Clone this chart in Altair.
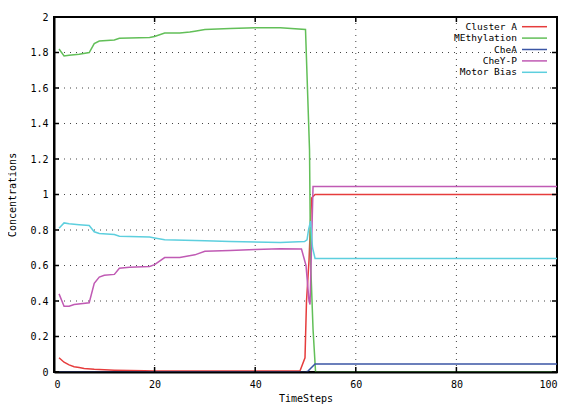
import altair as alt
import pandas as pd

# ---- data ----
series_names = ["Cluster A", "MEthylation", "CheA", "CheY-P", "Motor Bias"]
series_colors = ["#e63c3c", "#62bf58", "#3b56a5", "#c05ab4", "#5dcfde"]

cluster_t = [1, 2, 3, 4, 5, 6, 8, 10, 12, 15, 18, 20, 30, 40, 48.9, 49.9, 50.2, 50.7, 51.2, 51.9, 100]
cluster_v = [0.08, 0.055, 0.04, 0.03, 0.025, 0.02, 0.015, 0.012, 0.01, 0.008, 0.007, 0.006, 0.006, 0.006,
             0.006, 0.08, 0.4, 0.63, 0.98, 1.0, 1.0]

meth_t = [1, 2, 3, 5, 7, 8, 9, 12, 13, 19, 20, 22, 25, 27, 28, 30, 35, 40, 45, 50, 50.8, 51.0, 51.5, 52, 100]
meth_v = [1.82, 1.78, 1.785, 1.79, 1.80, 1.85, 1.865, 1.87, 1.88, 1.885, 1.89, 1.91, 1.91, 1.915, 1.92,
          1.93, 1.935, 1.94, 1.94, 1.93, 1.25, 0.63, 0.24, 0.0, 0.0]

chea_t = [1, 50, 50.5, 51, 51.9, 100]
chea_v = [0.0, 0.0, 0.005, 0.02, 0.045, 0.045]

chey_t = [1, 2, 3, 4, 7, 8, 9, 10, 12, 13, 15, 19, 20, 22, 25, 28, 30, 35, 40, 45, 49.2, 50.1, 50.7, 50.9, 51.5, 100]
chey_v = [0.44, 0.37, 0.37, 0.38, 0.39, 0.50, 0.535, 0.545, 0.55, 0.585, 0.59, 0.595, 0.605, 0.645, 0.645,
          0.66, 0.68, 0.685, 0.69, 0.695, 0.693, 0.60, 0.40, 0.38, 1.045, 1.045]

motor_t = [1, 2, 3, 5, 7, 8, 9, 12, 13, 19, 20, 22, 30, 35, 45, 49.8, 50.3, 50.6, 51.0, 51.4, 51.9, 100]
motor_v = [0.81, 0.84, 0.835, 0.83, 0.825, 0.79, 0.78, 0.775, 0.765, 0.76, 0.755, 0.745, 0.74, 0.735, 0.73,
           0.735, 0.745, 0.80, 0.85, 0.70, 0.64, 0.64]

x_ticks = [0, 20, 40, 60, 80, 100]
y_ticks = [0, 0.2, 0.4, 0.6, 0.8, 1.0, 1.2, 1.4, 1.6, 1.8, 2.0]
x_grid = [20, 40, 60, 80]
y_grid = [0.2, 0.4, 0.6, 0.8, 1.0, 1.2, 1.4, 1.6, 1.8]

W, H = 503, 355
FONT = "DejaVu Sans Mono"

rows = []
for name, ts, vs in zip(series_names,
                        [cluster_t, meth_t, chea_t, chey_t, motor_t],
                        [cluster_v, meth_v, chea_v, chey_v, motor_v]):
    for i, (t, v) in enumerate(zip(ts, vs)):
        rows.append({"series": name, "t": t, "v": v, "i": i})
df = pd.DataFrame(rows)

xscale = alt.Scale(domain=[0, 100], nice=False, zero=False)
yscale = alt.Scale(domain=[0, 2], nice=False)
xaxis = alt.Axis(values=x_ticks, title="TimeSteps", grid=False, domainColor="black", domainWidth=2,
                 ticks=False, labelPadding=7, titlePadding=4, labelOverlap=False, zindex=1)
yaxis = alt.Axis(values=y_ticks, title="Concentrations", format="~g", grid=False,
                 domainColor="black", domainWidth=2, ticks=False, labelOverlap=False,
                 labelPadding=6, titlePadding=12, zindex=1)
color = alt.Color("series:N", scale=alt.Scale(domain=series_names, range=series_colors), legend=None)

# dotted grid
xg = pd.DataFrame({"t": x_grid})
yg = pd.DataFrame({"v": y_grid})
grid_x = alt.Chart(xg).mark_rule(color="#444", strokeWidth=1, strokeDash=[1, 5]).encode(
    x=alt.X("t:Q", scale=xscale, axis=xaxis))
grid_y = alt.Chart(yg).mark_rule(color="#444", strokeWidth=1, strokeDash=[1, 5]).encode(
    y=alt.Y("v:Q", scale=yscale, axis=yaxis))

lines = alt.Chart(df).mark_line(strokeWidth=1.5, clip=True).encode(
    x=alt.X("t:Q", scale=xscale, axis=xaxis),
    y=alt.Y("v:Q", scale=yscale, axis=yaxis),
    color=color,
    order="i:Q",
    detail="series:N",
)

# inward ticks on all four sides (gnuplot style)
xt = pd.DataFrame({"t": x_ticks})
yt = pd.DataFrame({"v": y_ticks})
tick_b = alt.Chart(xt).mark_rule(color="black", strokeWidth=1.5).encode(
    x=alt.X("t:Q", scale=xscale, axis=xaxis), y=alt.value(H), y2=alt.value(H - 5))
tick_t = alt.Chart(xt).mark_rule(color="black", strokeWidth=1.5).encode(
    x=alt.X("t:Q", scale=xscale, axis=xaxis), y=alt.value(0), y2=alt.value(5))
tick_l = alt.Chart(yt).mark_rule(color="black", strokeWidth=1.5).encode(
    y=alt.Y("v:Q", scale=yscale, axis=yaxis), x=alt.value(0), x2=alt.value(5))
tick_r = alt.Chart(yt).mark_rule(color="black", strokeWidth=1.5).encode(
    y=alt.Y("v:Q", scale=yscale, axis=yaxis), x=alt.value(W), x2=alt.value(W - 5))

# legend (top right, labels right-aligned, sample line to the right)
legend_layers = []
for k, (name, col) in enumerate(zip(series_names, series_colors)):
    yy = 9.7 + 11.4 * k
    ldf = pd.DataFrame({"label": [name]})
    legend_layers.append(alt.Chart(ldf).mark_text(align="right", baseline="middle", font=FONT, fontSize=9.5,
                                                  color="black").encode(
        text="label:N", x=alt.value(463), y=alt.value(yy)))
    legend_layers.append(alt.Chart(ldf).mark_rule(color=col, strokeWidth=1.5).encode(
        x=alt.value(468), x2=alt.value(493), y=alt.value(yy)))

chart = alt.layer(grid_x, grid_y, lines, tick_b, tick_t, tick_l, tick_r, *legend_layers).properties(
    width=W, height=H,
    autosize=alt.AutoSizeParams(type="none"),
    padding={"left": 46, "top": 9, "right": 2, "bottom": 40},
).configure_view(stroke="black", strokeWidth=2).configure_axis(
    labelFont=FONT, titleFont=FONT, labelFontSize=10, titleFontSize=10, titleFontWeight="normal",
    labelColor="black", titleColor="black"
)

chart.save("out.html", embed_options={"renderer": "svg", "actions": False})
